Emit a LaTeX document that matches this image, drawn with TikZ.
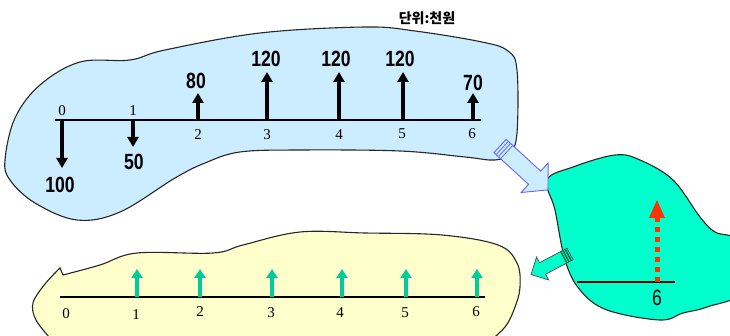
\documentclass[tikz,border=0pt]{standalone}
\usepackage{fontspec}
\setmainfont{Liberation Serif}
\newfontfamily\numfont[FakeStretch=0.8]{Liberation Sans}
\newfontfamily\kofont{Noto Sans CJK KR}
\usetikzlibrary{arrows.meta}
\definecolor{blobblue}{HTML}{CCECFF}
\definecolor{blobgreen}{HTML}{00FFCC}
\definecolor{blobyellow}{HTML}{FFFFCC}
\definecolor{arrgreen}{HTML}{00CC99}
\definecolor{arrred}{HTML}{FF3300}
\definecolor{bigarrblue}{HTML}{6666FF}
\definecolor{darkgr}{HTML}{006644}
\tikzset{
  blob/.style={draw=black!85, line width=1.1pt},
  axisline/.style={draw=black, line width=1.5pt},
  flow/.style={draw=black, line width=3.6pt, -{Triangle[width=11pt,length=10pt]}},
  inflow/.style={draw=arrgreen, line width=3.8pt, -{Triangle[width=11pt,length=9pt]}},
  val/.style={font=\numfont\bfseries\fontsize{22}{22}\selectfont, inner sep=0pt},
  tick/.style={font=\fontsize{15}{15}\selectfont, inner sep=0pt},
}
\begin{document}
\begin{tikzpicture}[x=1pt,y=-1pt]
\useasboundingbox (0,0) rectangle (730,336);
% blobs
\filldraw[blob, fill=blobblue] plot[smooth cycle, tension=0.6] coordinates {(5,160) (15,118) (40,85) (80,62) (130,60) (165,50) (260,33) (365,27) (415,31) (482,42) (508,51) (517,70) (517,133) (510,153) (495,160) (465,157) (400,151) (300,150) (240,152) (205,163) (175,178) (120,212) (77,220) (35,203) (10,180)};
\filldraw[blob, fill=blobgreen] plot[smooth cycle, tension=0.6] coordinates {(547,180) (573,167) (615,155) (640,160) (673,180) (700,217) (715,232) (738,242) (745,290) (707,307) (683,313) (660,320) (607,310) (580,290) (565,260) (555,210)};
\filldraw[blob, fill=blobyellow] (60,268) -- plot[smooth, tension=0.6] coordinates {(63,275) (100,265) (137,253) (213,253) (243,245) (300,232) (365,233) (442,235) (498,245) (517,263) (520,287) (515,307) (505,327) (485,345)} -- (60,345) -- plot[smooth, tension=0.6] coordinates {(50,338) (36,320) (33,303) (45,284) (60,268)} -- cycle;

% unit text
\node[font=\kofont\bfseries\fontsize{14}{14}\selectfont, inner sep=0pt] (unit) at (427,18) {단위:천원};

% top timeline
\coordinate (a0) at (55,120); \coordinate (a1) at (481,120);
\draw[axisline] (a0) -- (a1);
\foreach \i/\x/\tip in {0/62/168, 1/133/147, 2/198/93, 3/267/72, 4/339/72, 5/403/72, 6/473/93}{
  \coordinate (p\i) at (\x,120);
  \coordinate (t\i) at (\x,\tip);
  \draw[flow] (p\i) -- (t\i);
}
\node[tick] (l0) at (62,111) {0};
\node[tick] (l1) at (133,111) {1};
\node[tick] (l2) at (198,135) {2};
\node[tick] (l3) at (267,135) {3};
\node[tick] (l4) at (339,135) {4};
\node[tick] (l5) at (402,134) {5};
\node[tick] (l6) at (472,134) {6};
\node[val] (v0) at (60,185) {100};
\node[val] (v1) at (134,162) {50};
\node[val] (v2) at (196,81) {80};
\node[val] (v3) at (266,59) {120};
\node[val] (v4) at (336,59) {120};
\node[val] (v5) at (400,59) {120};
\node[val] (v6) at (473,83) {70};

% big blue arrow
\begin{scope}[shift={(500,146)}, rotate=-42.5]
  \filldraw[draw=bigarrblue, fill=blobblue, line width=0.9pt] (0pt,9pt) -- (47pt,9pt) -- (47pt,20pt) -- (65pt,0pt) -- (47pt,-20pt) -- (47pt,-9pt) -- (0pt,-9pt) -- cycle;
  \foreach \s in {3,6,9}{\draw[bigarrblue, line width=0.8pt] (\s pt,9pt) -- (\s pt,-9pt);}
\end{scope}

% green region
\coordinate (g0) at (577,282); \coordinate (g1) at (675,282);
\draw[line width=1.2pt] (g0) -- (g1);
\coordinate (rb) at (657,282); \coordinate (rt) at (657,217);
\draw[arrred, line width=5pt, dash pattern=on 5pt off 5pt] (rb) -- (rt);
\fill[arrred] (657,200) -- (665,218) -- (649,218) -- cycle;
\node[font=\numfont\fontsize{22}{22}\selectfont, inner sep=0pt] (g6) at (657,298) {6};

% green arrow
\begin{scope}[shift={(570,254)}, rotate=207.8]
  \filldraw[draw=black!70, fill=blobgreen, line width=0.7pt] (0pt,6.5pt) -- (31pt,6.5pt) -- (31pt,13pt) -- (44pt,0pt) -- (31pt,-13pt) -- (31pt,-6.5pt) -- (0pt,-6.5pt) -- cycle;
  \foreach \s in {2,4.5,7}{\draw[darkgr, line width=1.4pt] (\s pt,6.5pt) -- (\s pt,-6.5pt);}
\end{scope}

% bottom timeline
\coordinate (b0) at (60,297); \coordinate (b1) at (485,297);
\draw[axisline] (b0) -- (b1);
\foreach \i/\x in {1/137, 2/200, 3/272, 4/342, 5/406, 6/477}{
  \coordinate (q\i) at (\x,297);
  \coordinate (u\i) at (\x,269);
  \draw[inflow] (q\i) -- (u\i);
}
\node[tick] (m0) at (66,314) {0};
\node[tick] (m1) at (136,315) {1};
\node[tick] (m2) at (200,312) {2};
\node[tick] (m3) at (271,313) {3};
\node[tick] (m4) at (340,313) {4};
\node[tick] (m5) at (405,313) {5};
\node[tick] (m6) at (476,312) {6};
\end{tikzpicture}
\end{document}
